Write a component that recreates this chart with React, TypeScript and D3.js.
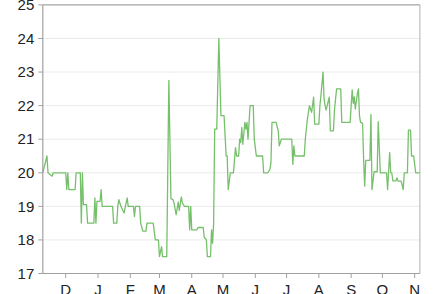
import React from "react";
import * as d3 from "d3";

const dates: string[] = [
  "2014-11-09","2014-11-13","2014-11-14","2014-11-18","2014-11-19","2014-12-01","2014-12-02","2014-12-03","2014-12-04","2014-12-10",
  "2014-12-11","2014-12-15","2014-12-16","2014-12-17","2014-12-18","2014-12-21","2014-12-22","2014-12-28","2014-12-29","2014-12-30",
  "2014-12-31","2015-01-03","2015-01-04","2015-01-05","2015-01-15","2015-01-16","2015-01-19","2015-01-20","2015-01-21","2015-01-23",
  "2015-01-26","2015-01-29","2015-01-30","2015-02-04","2015-02-05","2015-02-06","2015-02-10","2015-02-11","2015-02-13","2015-02-16",
  "2015-02-17","2015-02-23","2015-02-25","2015-02-28","2015-03-01","2015-03-03","2015-03-04","2015-03-08","2015-03-10","2015-03-12",
  "2015-03-14","2015-03-15","2015-03-17","2015-03-19","2015-03-20","2015-03-22","2015-03-23","2015-03-25","2015-03-29","2015-03-30",
  "2015-03-31","2015-04-01","2015-04-06","2015-04-07","2015-04-12","2015-04-13","2015-04-15","2015-04-16","2015-04-19","2015-04-20",
  "2015-04-21","2015-04-22","2015-04-23","2015-04-25","2015-04-27","2015-04-29","2015-05-02","2015-05-04","2015-05-05","2015-05-06",
  "2015-05-08","2015-05-11","2015-05-13","2015-05-14","2015-05-16","2015-05-17","2015-05-18","2015-05-19","2015-05-20","2015-05-22",
  "2015-05-23","2015-05-24","2015-05-25","2015-05-27","2015-05-30","2015-05-31","2015-06-02","2015-06-08","2015-06-09","2015-06-13",
  "2015-06-15","2015-06-16","2015-06-17","2015-06-21","2015-06-23","2015-06-24","2015-06-26","2015-07-06","2015-07-07","2015-07-08",
  "2015-07-09","2015-07-18","2015-07-19","2015-07-21","2015-07-23","2015-07-25","2015-07-27","2015-07-28","2015-08-01","2015-08-02",
  "2015-08-03","2015-08-05","2015-08-06","2015-08-07","2015-08-08","2015-08-09","2015-08-11","2015-08-12","2015-08-15","2015-08-16",
  "2015-08-18","2015-08-22","2015-08-23","2015-08-31","2015-09-01","2015-09-02","2015-09-03","2015-09-04","2015-09-05","2015-09-07",
  "2015-09-08","2015-09-09","2015-09-10","2015-09-12","2015-09-13","2015-09-14","2015-09-15","2015-09-19","2015-09-20","2015-09-21",
  "2015-09-23","2015-09-26","2015-09-27","2015-09-29","2015-10-05","2015-10-06","2015-10-08","2015-10-09","2015-10-10","2015-10-11",
  "2015-10-14","2015-10-15","2015-10-16","2015-10-19","2015-10-21","2015-10-22","2015-10-25","2015-10-26","2015-10-28","2015-10-29",
  "2015-10-31","2015-11-02","2015-11-06",
];

const values: number[] = [
  20.0,20.5,20.0,19.9,20.0,20.0,19.5,20.0,19.5,19.5,
  20.0,20.0,18.5,20.0,19.05,19.05,18.5,18.5,19.25,18.5,
  19.15,19.15,19.5,19.0,19.0,18.5,18.5,19.0,19.2,19.0,
  18.8,19.25,19.0,19.0,18.7,19.0,19.0,18.5,18.26,18.26,
  18.5,18.5,18.0,18.0,17.5,17.8,17.5,17.5,22.75,19.23,
  19.2,19.1,18.75,19.13,18.88,19.28,19.1,19.0,19.0,18.3,
  19.0,18.3,18.3,18.37,18.37,18.08,18.0,17.5,17.5,18.3,
  17.9,18.5,21.3,21.3,24.0,21.7,21.7,20.5,20.5,19.5,
  20.0,20.0,20.75,20.5,20.5,21.0,20.9,21.35,20.85,21.5,
  21.3,21.5,21.0,22.0,22.0,21.0,20.5,20.5,20.0,20.0,
  20.1,20.3,21.5,21.5,21.25,20.8,21.0,21.0,20.25,20.8,
  20.5,20.5,21.0,21.6,22.0,21.8,22.25,21.45,21.45,22.0,
  22.3,23.0,22.2,22.0,21.87,22.0,22.25,21.25,21.25,21.87,
  22.5,22.5,21.5,21.5,22.0,22.47,22.07,22.26,21.9,22.36,
  22.5,21.7,21.5,21.47,20.37,19.6,20.37,20.37,21.74,19.5,
  20.03,20.03,21.52,20.0,20.0,19.5,20.6,20.0,20.0,19.76,
  19.76,19.85,19.75,19.75,19.5,20.0,20.0,21.27,21.27,20.5,
  20.5,20.0,20.0,
];

const yTicks: number[] = [17, 18, 19, 20, 21, 22, 23, 24, 25];
const monthTicks: string[] = [
  "2014-12-01","2015-01-01","2015-02-01","2015-03-01","2015-04-01","2015-05-01",
  "2015-06-01","2015-07-01","2015-08-01","2015-09-01","2015-10-01","2015-11-01",
];
const monthLabels: string[] = ["D","J","F","M","A","M","J","J","A","S","O","N"];
const xDomain: string[] = ["2014-11-09", "2015-11-06"];
const yDomain: number[] = [17, 25];

const W = 433;
const H = 294;
const left = 42.8;
const right = 419.9;
const top = 4.9;
const bottom = 273.5;
const FONT = "'Liberation Sans', Arial, Helvetica, sans-serif";

export default function App() {
  const parse = d3.utcParse("%Y-%m-%d");
  const x = d3.scaleUtc().domain(xDomain.map((s) => parse(s) as Date)).range([left, right]);
  const y = d3.scaleLinear().domain(yDomain).range([bottom, top]);
  const data = dates.map((d, i) => ({ date: parse(d) as Date, value: values[i] }));
  const line = d3
    .line<{ date: Date; value: number }>()
    .x((d) => x(d.date))
    .y((d) => y(d.value));

  return (
    <svg
      width={W}
      height={H}
      style={{ position: "fixed", left: 0, top: 0, background: "#fff" }}
      fontFamily={FONT}
    >
      <rect x={0} y={0} width={W} height={H} fill="#fff" />
      {yTicks.slice(1, -1).map((t) => (
        <line key={"g" + t} x1={left} x2={right} y1={y(t)} y2={y(t)} stroke="#ebebeb" strokeWidth={1} />
      ))}
      <path d={line(data) || ""} fill="none" stroke="#76c06b" strokeWidth={1.3} strokeLinejoin="round" />
      {/* frame */}
      <line x1={left} x2={right} y1={top} y2={top} stroke="#8c8c8c" strokeWidth={1} />
      <line x1={right} x2={right} y1={top} y2={bottom} stroke="#b0b0b0" strokeWidth={1} />
      <line x1={left} x2={left} y1={top} y2={bottom} stroke="#a0a0a0" strokeWidth={1.2} />
      <line x1={left} x2={right} y1={bottom} y2={bottom} stroke="#a0a0a0" strokeWidth={1.2} />
      {yTicks.map((t) => (
        <g key={"y" + t} transform={`translate(0,${y(t)})`}>
          <line x1={left - 4.5} x2={left} stroke="#a0a0a0" strokeWidth={1} />
          <text x={left - 8.5} dy="0.35em" textAnchor="end" fontSize={15} fill="#222">
            {t}
          </text>
        </g>
      ))}
      {monthTicks.map((m, i) => {
        const px = x(parse(m) as Date);
        return (
          <g key={"x" + m} transform={`translate(${px},0)`}>
            <line y1={bottom} y2={bottom + 4.5} stroke="#a0a0a0" strokeWidth={1} />
            <text y={294.5} textAnchor="middle" fontSize={15} fill="#222">
              {monthLabels[i]}
            </text>
          </g>
        );
      })}
    </svg>
  );
}
